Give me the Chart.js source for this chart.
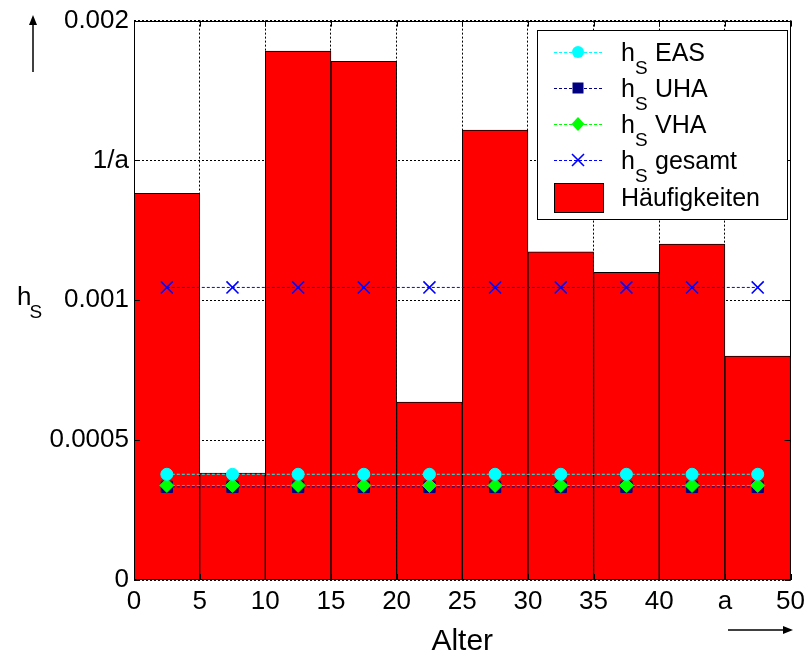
<!DOCTYPE html>
<html><head><meta charset="utf-8">
<script src="https://cdn.jsdelivr.net/npm/chart.js@4/dist/chart.umd.min.js"></script>
<style>html,body{margin:0;padding:0;background:#fff}#wrap{width:811px;height:655px}</style>
</head><body><div id="wrap"><canvas id="c" width="811" height="655"></canvas></div>
<script>
const ageCenters = [2.5, 7.5, 12.5, 17.5, 22.5, 27.5, 32.5, 37.5, 42.5, 47.5];
const haeufigkeiten = [0.001382, 0.000382, 0.001891, 0.001854, 0.000636, 0.001609, 0.001173, 0.001100, 0.001201, 0.000801];
const hsEAS = [0.000378, 0.000378, 0.000378, 0.000378, 0.000378, 0.000378, 0.000378, 0.000378, 0.000378, 0.000378];
const hsUHA = [0.000333, 0.000333, 0.000333, 0.000333, 0.000333, 0.000333, 0.000333, 0.000333, 0.000333, 0.000333];
const hsVHA = [0.000338, 0.000338, 0.000338, 0.000338, 0.000338, 0.000338, 0.000338, 0.000338, 0.000338, 0.000338];
const hsGesamt = [0.001046, 0.001046, 0.001046, 0.001046, 0.001046, 0.001046, 0.001046, 0.001046, 0.001046, 0.001046];
const xTickValues = [0, 5, 10, 15, 20, 25, 30, 35, 40, 45, 50];
const xTickLabels = ['0', '5', '10', '15', '20', '25', '30', '35', '40', 'a', '50'];
const yTickValues = [0, 0.0005, 0.001, 0.0015, 0.002];
const yTickLabels = ['0', '0.0005', '0.001', '1/a', '0.002'];
const seriesNames = ['EAS', 'UHA', 'VHA', 'gesamt'];
const histName = 'Häufigkeiten';

const FONT = '"Liberation Sans", Arial, sans-serif';
const colors = { EAS: '#00FFFF', UHA: '#000080', VHA: '#00FF00', gesamt: '#0000FF' };
const styles = { EAS: 'circle', UHA: 'rect', VHA: 'diamond', gesamt: 'cross' };

function pts(vals) { return ageCenters.map((x, i) => ({ x: x, y: vals[i] })); }

function drawMarker(ctx, style, x, y, color) {
  ctx.save();
  ctx.fillStyle = color; ctx.strokeStyle = color; ctx.setLineDash([]);
  ctx.beginPath();
  if (style === 'circle') { ctx.arc(x, y, 6, 0, Math.PI * 2); ctx.fill(); }
  else if (style === 'rect') { ctx.rect(x - 5.5, y - 5.5, 11, 11); ctx.fill(); }
  else if (style === 'diamond') { ctx.moveTo(x, y - 7); ctx.lineTo(x + 6.5, y); ctx.lineTo(x, y + 7); ctx.lineTo(x - 6.5, y); ctx.closePath(); ctx.fill(); }
  else if (style === 'cross') { ctx.lineWidth = 1.6; ctx.moveTo(x - 6, y - 6); ctx.lineTo(x + 6, y + 6); ctx.moveTo(x + 6, y - 6); ctx.lineTo(x - 6, y + 6); ctx.stroke(); }
  ctx.restore();
}

const lineData = { EAS: hsEAS, UHA: hsUHA, VHA: hsVHA, gesamt: hsGesamt };
const chartPointStyle = { EAS: 'circle', UHA: 'rect', VHA: 'rectRot', gesamt: 'crossRot' };
const chartPointRadius = { EAS: 6, UHA: 8, VHA: 7, gesamt: 8.5 };
const chartOrder = { EAS: 2, UHA: 4, VHA: 3, gesamt: 1 };

const datasets = seriesNames.map(n => ({
  type: 'line',
  label: 'hS ' + n,
  data: pts(lineData[n]),
  borderColor: colors[n],
  backgroundColor: colors[n],
  borderWidth: 1,
  borderDash: [3, 2],
  pointStyle: chartPointStyle[n],
  pointRadius: chartPointRadius[n],
  pointBorderWidth: n === 'gesamt' ? 1.6 : 1,
  pointBackgroundColor: colors[n],
  pointBorderColor: colors[n],
  order: chartOrder[n]
}));
datasets.push({
  type: 'bar',
  label: histName,
  data: pts(haeufigkeiten),
  backgroundColor: '#FF0000',
  borderColor: '#000000',
  borderWidth: 1,
  barPercentage: 1,
  categoryPercentage: 1,
  order: 10
});

const decor = {
  id: 'decor',
  afterDraw(chart) {
    const ctx = chart.ctx;
    const a = chart.chartArea;
    const xs = chart.scales.x, ys = chart.scales.y;
    ctx.save();
    // frame
    ctx.strokeStyle = '#000'; ctx.lineWidth = 1; ctx.setLineDash([]);
    ctx.strokeRect(Math.round(a.left) + 0.5, Math.round(a.top) + 0.5, Math.round(a.right - a.left) - 1, Math.round(a.bottom - a.top) - 1);
    // inward ticks
    ctx.beginPath();
    xTickValues.forEach(v => {
      const p = Math.round(xs.getPixelForValue(v)) + 0.5;
      ctx.moveTo(p, a.bottom); ctx.lineTo(p, a.bottom - 6);
      ctx.moveTo(p, a.top); ctx.lineTo(p, a.top + 6);
    });
    yTickValues.forEach(v => {
      const p = Math.round(ys.getPixelForValue(v)) + 0.5;
      ctx.moveTo(a.left, p); ctx.lineTo(a.left + 6, p);
      ctx.moveTo(a.right, p); ctx.lineTo(a.right - 6, p);
    });
    ctx.stroke();

    // legend
    const L = { x: 537, y: 30, w: 250, h: 189 };
    ctx.fillStyle = '#fff';
    ctx.fillRect(L.x, L.y, L.w, L.h);
    ctx.strokeStyle = '#000'; ctx.lineWidth = 1;
    ctx.strokeRect(L.x + 0.5, L.y + 0.5, L.w, L.h);
    const rows = [52, 88, 124, 160];
    seriesNames.forEach((n, i) => {
      const y = rows[i];
      ctx.save();
      ctx.strokeStyle = colors[n]; ctx.lineWidth = 1; ctx.setLineDash([3, 2]);
      ctx.beginPath(); ctx.moveTo(554, y + 0.5); ctx.lineTo(604, y + 0.5); ctx.stroke();
      ctx.restore();
      drawMarker(ctx, styles[n], 578, y, colors[n]);
      ctx.fillStyle = '#000';
      ctx.textAlign = 'left'; ctx.textBaseline = 'alphabetic';
      ctx.font = '25px ' + FONT;
      ctx.fillText('h', 621, y + 9);
      const hw = ctx.measureText('h').width;
      ctx.font = '19px ' + FONT;
      ctx.fillText('S', 621 + hw, y + 22);
      ctx.font = '25px ' + FONT;
      ctx.fillText(n, 655, y + 9);
    });
    ctx.fillStyle = '#FF0000';
    ctx.fillRect(554, 183, 49, 29);
    ctx.strokeStyle = '#000';
    ctx.strokeRect(554.5, 183.5, 49, 29);
    ctx.fillStyle = '#000';
    ctx.font = '25px ' + FONT;
    ctx.fillText(histName, 621, 206);

    // y label h_S
    ctx.font = '26px ' + FONT;
    ctx.fillText('h', 17, 305);
    const hw2 = ctx.measureText('h').width;
    ctx.font = '19px ' + FONT;
    ctx.fillText('S', 15 + hw2, 318);

    // x label
    ctx.font = '30px ' + FONT;
    ctx.textAlign = 'center';
    ctx.fillText('Alter', (a.left + a.right) / 2, 650);

    // arrows
    ctx.strokeStyle = '#000'; ctx.fillStyle = '#000'; ctx.lineWidth = 1.5;
    ctx.beginPath(); ctx.moveTo(33, 72); ctx.lineTo(33, 22); ctx.stroke();
    ctx.beginPath(); ctx.moveTo(33, 15); ctx.lineTo(29, 25); ctx.lineTo(37, 25); ctx.closePath(); ctx.fill();
    ctx.beginPath(); ctx.moveTo(728, 630); ctx.lineTo(786, 630); ctx.stroke();
    ctx.beginPath(); ctx.moveTo(793, 630); ctx.lineTo(783, 626); ctx.lineTo(783, 634); ctx.closePath(); ctx.fill();
    ctx.restore();
  }
};

new Chart(document.getElementById('c'), {
  type: 'bar',
  data: { datasets: datasets },
  options: {
    responsive: false,
    animation: false,
    devicePixelRatio: 1,
    layout: { padding: { top: 20, right: 17, left: 0, bottom: 0 } },
    plugins: { legend: { display: false }, tooltip: { enabled: false } },
    scales: {
      x: {
        type: 'linear', min: 0, max: 50, offset: false,
        afterBuildTicks: s => { s.ticks = xTickValues.map(v => ({ value: v })); },
        afterFit: s => { s.height = 75; },
        ticks: {
          autoSkip: false, maxRotation: 0, padding: 6, color: '#000',
          font: { family: FONT, size: 26 },
          callback: (v, i) => xTickLabels[i]
        },
        grid: { color: '#000', lineWidth: 1, drawTicks: false, offset: false },
        border: { display: false, dash: [2, 2] }
      },
      y: {
        type: 'linear', min: 0, max: 0.002,
        afterBuildTicks: s => { s.ticks = yTickValues.map(v => ({ value: v })); },
        afterFit: s => { s.width = 134; },
        ticks: {
          autoSkip: false, padding: 5, color: '#000',
          font: { family: FONT, size: 26 },
          callback: (v, i) => yTickLabels[i]
        },
        grid: { color: '#000', lineWidth: 1, drawTicks: false },
        border: { display: false, dash: [2, 2] }
      }
    }
  },
  plugins: [decor]
});
</script></body></html>
